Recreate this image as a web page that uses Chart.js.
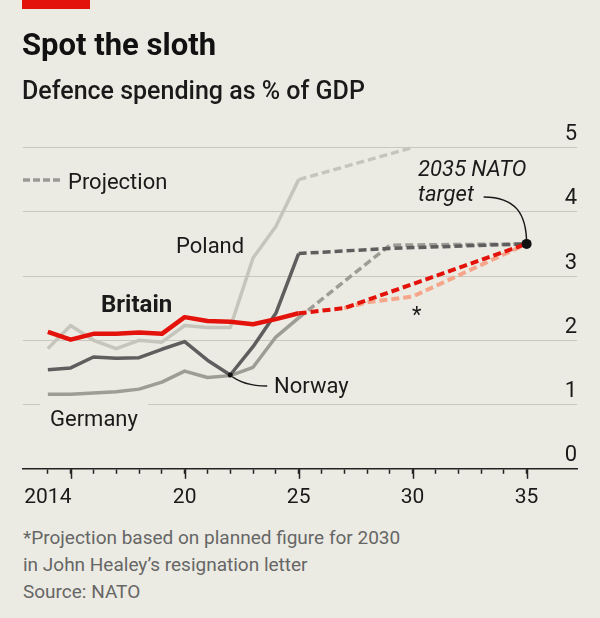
<!DOCTYPE html>
<html lang="en">
<head>
<meta charset="UTF-8">
<title>Spot the sloth</title>
<style>
body{margin:0;background:#ecebe3;font-family:Roboto,Arial,sans-serif;}
.wrap{position:relative;width:600px;height:618px;overflow:hidden;background:#ecebe3;}
.lbl{position:absolute;white-space:nowrap;line-height:1;color:#1a1a1a;z-index:2;}
.note{position:absolute;left:23px;white-space:nowrap;line-height:1;font-size:19px;color:#666;}
canvas{position:absolute;left:0;top:0;z-index:1;}
</style>
</head>
<body>
<div class="wrap">
    <div style="position:absolute;left:22px;top:0;width:68px;height:9px;background:#e3120b;"></div>
    <div class="lbl" style="left:22px;top:29px;font-size:31px;font-weight:700;color:#111;">Spot the sloth</div>
    <div class="lbl" style="left:22px;top:78px;font-size:25px;font-weight:500;">Defence spending as % of GDP</div>

    <canvas id="chart" width="600" height="618"></canvas>

    <div class="lbl" style="left:68px;top:171px;font-size:22px;">Projection</div>
    <div class="lbl" style="left:176px;top:235px;font-size:22px;">Poland</div>
    <div class="lbl" style="left:101px;top:292px;font-size:24px;font-weight:700;">Britain</div>
    <div class="lbl" style="left:40px;top:402px;font-size:22px;padding:6px 10px 0 10px;background:#ecebe3;">Germany</div>
    <div class="lbl" style="left:274px;top:375px;font-size:22px;">Norway</div>
    <div class="lbl" style="left:418px;top:158px;font-size:22px;font-style:italic;">2035 NATO</div>
    <div class="lbl" style="left:418px;top:183px;font-size:22px;font-style:italic;">target</div>
    <div class="lbl" style="left:412px;top:304px;font-size:22px;">*</div>

    <div class="note" style="top:528px;">*Projection based on planned figure for 2030</div>
    <div class="note" style="top:555px;">in John Healey’s resignation letter</div>
    <div class="note" style="top:582px;">Source: NATO</div>
</div>
<script src="https://cdn.jsdelivr.net/npm/chart.js"></script>
<script>
// actual figures, % of GDP
const years = [2014, 2015, 2016, 2017, 2018, 2019, 2020, 2021, 2022, 2023, 2024, 2025];
const britain = [2.13, 2.01, 2.10, 2.10, 2.12, 2.10, 2.36, 2.30, 2.29, 2.25, 2.33, 2.42];
const poland  = [1.87, 2.23, 2.00, 1.87, 2.00, 1.97, 2.23, 2.20, 2.20, 3.28, 3.77, 4.50];
const norway  = [1.54, 1.57, 1.74, 1.72, 1.73, 1.86, 1.98, 1.69, 1.46, 1.90, 2.42, 3.35];
const germany = [1.16, 1.16, 1.18, 1.20, 1.24, 1.35, 1.52, 1.42, 1.45, 1.58, 2.05, 2.35];

// projections
const britainProjYears = [2025, 2027, 2035];
const britainProj      = [2.42, 2.50, 3.50];
const healeyYears      = [2027, 2028, 2030, 2035];
const healeyProj       = [2.50, 2.59, 2.68, 3.50];
const polandProjYears  = [2025, 2030];
const polandProj       = [4.50, 5.00];
const norwayProjYears  = [2025, 2029, 2035];
const norwayProj       = [3.35, 3.43, 3.50];
const germanyProjYears = [2025, 2029, 2035];
const germanyProj      = [2.35, 3.48, 3.50];

const targetYear = 2035;
const natoTarget = 3.5;
const norwayDotYear = 2022;

// axes
const tickYears = Array.from({length: 22}, (_, i) => 2014 + i);
const labelYears = [2014, 2020, 2025, 2030, 2035];
const labelText = ['2014', '20', '25', '30', '35'];
const yTicks = [0, 1, 2, 3, 4, 5];

const pts = (xs, ys) => xs.map((x, i) => ({x: x, y: ys[i]}));

const RED = '#e3120b', PINK = '#f5a68b', LIGHT = '#c5c5bc', MID = '#9d9d96', DARK = '#5e5e5e';

function line(data, color, width, dashed) {
    return {
        data: data, borderColor: color, borderWidth: width, borderDash: dashed ? [8, 4] : [],
        pointRadius: 0, fill: false, tension: 0, clip: false,
        borderJoinStyle: 'round', borderCapStyle: 'butt'
    };
}

const extras = {
    id: 'extras',
    beforeDatasetsDraw(chart) {
        const {ctx, scales: {x, y}} = chart;
        ctx.save();
        ctx.strokeStyle = '#1a1a1a';
        ctx.lineWidth = 1.5;
        // leader to the NATO target
        const tx = x.getPixelForValue(targetYear), ty = y.getPixelForValue(natoTarget);
        ctx.beginPath();
        ctx.moveTo(tx - 43, ty - 47);
        ctx.bezierCurveTo(tx - 11, ty - 47, tx, ty - 30, tx, ty);
        ctx.stroke();
        // leader to Norway
        const nx = x.getPixelForValue(norwayDotYear);
        const ny = y.getPixelForValue(norway[years.indexOf(norwayDotYear)]);
        ctx.beginPath();
        ctx.moveTo(nx, ny);
        ctx.bezierCurveTo(nx + 8, ny + 7, nx + 20, ny + 11, nx + 37, ny + 11);
        ctx.stroke();
        // legend swatch
        ctx.setLineDash([7, 3]);
        ctx.strokeStyle = '#9a9a94';
        ctx.lineWidth = 3.5;
        ctx.beginPath();
        ctx.moveTo(23, 180);
        ctx.lineTo(60, 180);
        ctx.stroke();
        ctx.restore();
    },
    afterDraw(chart) {
        const {ctx, scales: {x}} = chart;
        ctx.save();
        ctx.strokeStyle = '#222';
        ctx.lineWidth = 1.5;
        tickYears.filter(v => v % 5 === 0).forEach(v => {
            const px = Math.round(x.getPixelForValue(v)) + 0.5;
            ctx.beginPath();
            ctx.moveTo(px, x.top);
            ctx.lineTo(px, x.top + 10);
            ctx.stroke();
        });
        ctx.restore();
    }
};

new Chart(document.getElementById('chart'), {
    type: 'line',
    data: {
        datasets: [
            {data: [{x: targetYear, y: natoTarget}], showLine: false, pointRadius: 5, pointBackgroundColor: '#111', pointBorderWidth: 0, clip: false},
            {data: [{x: norwayDotYear, y: norway[years.indexOf(norwayDotYear)]}], showLine: false, pointRadius: 2.5, pointBackgroundColor: '#111', pointBorderWidth: 0},
            line(pts(years, britain), RED, 4.5, false),
            line(pts(britainProjYears, britainProj), RED, 4, true),
            line(pts(healeyYears, healeyProj), PINK, 4, true),
            line(pts(years, norway), DARK, 3.5, false),
            line(pts(norwayProjYears, norwayProj), DARK, 3.5, true),
            line(pts(years, germany), MID, 3.5, false),
            line(pts(germanyProjYears, germanyProj), MID, 3.5, true),
            line(pts(years, poland), LIGHT, 3.5, false),
            line(pts(polandProjYears, polandProj), LIGHT, 3.5, true)
        ]
    },
    options: {
        responsive: false,
        animation: false,
        devicePixelRatio: 1,
        layout: {padding: {left: 23, right: 23, top: 147.5, bottom: 97}},
        plugins: {legend: {display: false}, tooltip: {enabled: false}},
        scales: {
            x: {
                type: 'linear', min: 2012.91, max: 2037.21,
                afterBuildTicks: s => { s.ticks = tickYears.map(v => ({value: v})); },
                grid: {drawOnChartArea: false, drawTicks: true, tickLength: 5, tickColor: '#222', tickWidth: 1.5},
                border: {display: true, color: '#222', width: 1.5},
                ticks: {
                    autoSkip: false, maxRotation: 0, padding: 11, color: '#1a1a1a',
                    font: {family: 'Roboto', size: 21},
                    callback: v => { const i = labelYears.indexOf(v); return i < 0 ? '' : labelText[i]; }
                }
            },
            y: {
                position: 'right', min: 0, max: 5,
                afterBuildTicks: s => { s.ticks = yTicks.map(v => ({value: v})); },
                grid: {color: c => c.tick && c.tick.value === 0 ? 'rgba(0,0,0,0)' : '#c9c8bf', lineWidth: 1, drawTicks: false},
                border: {display: false},
                ticks: {mirror: true, padding: 0, labelOffset: -13, color: '#1a1a1a', font: {family: 'Roboto', size: 22}}
            }
        }
    },
    plugins: [extras]
});
</script>
</body>
</html>
